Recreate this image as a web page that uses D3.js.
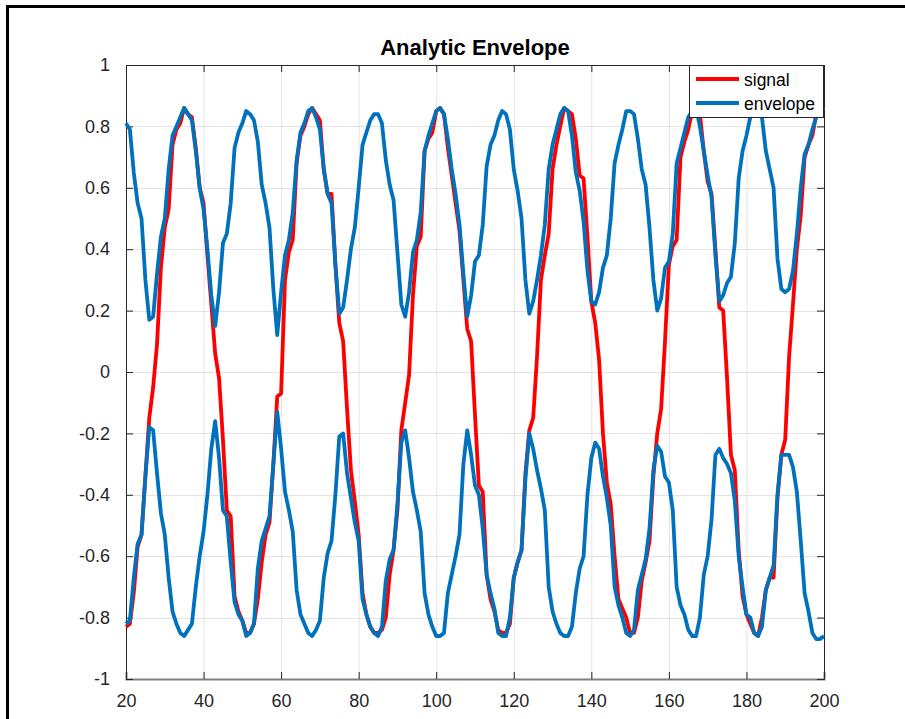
<!DOCTYPE html>
<html>
<head>
<meta charset="utf-8">
<script src="https://cdn.jsdelivr.net/npm/d3@7"></script>
<style>
body{margin:0;background:#fff;}
svg{display:block;font-family:"Liberation Sans",Arial,sans-serif;}
</style>
</head>
<body>
<div id="chart"></div>
<script>
// samples 20..200
var firstSample = 20
var lastSample = 200

var signal = [
 -0.83,-0.82,-0.72,-0.57,-0.53,-0.34,-0.15,-0.05,0.09,0.34,
 0.47,0.53,0.74,0.79,0.81,0.86,0.84,0.83,0.73,0.60,
 0.55,0.38,0.22,0.06,-0.02,-0.22,-0.45,-0.47,-0.73,-0.78,
 -0.81,-0.85,-0.85,-0.82,-0.74,-0.62,-0.53,-0.49,-0.30,-0.08,
 -0.07,0.30,0.39,0.43,0.68,0.77,0.80,0.84,0.86,0.84,
 0.82,0.66,0.58,0.58,0.35,0.16,0.10,-0.12,-0.32,-0.42,
 -0.53,-0.72,-0.79,-0.83,-0.85,-0.85,-0.84,-0.80,-0.66,-0.58,
 -0.45,-0.19,-0.10,-0.01,0.25,0.41,0.44,0.72,0.76,0.78,
 0.85,0.86,0.84,0.73,0.64,0.55,0.46,0.30,0.14,0.10,
 -0.14,-0.37,-0.39,-0.66,-0.74,-0.78,-0.84,-0.85,-0.85,-0.82,
 -0.67,-0.62,-0.58,-0.33,-0.19,-0.15,0.05,0.30,0.38,0.45,
 0.66,0.74,0.80,0.86,0.85,0.84,0.76,0.64,0.63,0.44,
 0.23,0.16,0.04,-0.20,-0.36,-0.43,-0.60,-0.74,-0.77,-0.80,
 -0.85,-0.85,-0.80,-0.68,-0.62,-0.55,-0.34,-0.20,-0.12,0.10,
 0.35,0.41,0.43,0.70,0.75,0.79,0.85,0.87,0.84,0.72,
 0.62,0.58,0.40,0.21,0.20,-0.02,-0.27,-0.32,-0.58,-0.73,
 -0.79,-0.82,-0.85,-0.86,-0.80,-0.71,-0.67,-0.67,-0.41,-0.27,
 -0.22,0.05,0.22,0.40,0.51,0.70,0.74,0.77,0.84,0.86,
 0.86
]

var upperEnv = [
 0.81,0.79,0.65,0.55,0.50,0.30,0.17,0.18,0.32,0.44,
 0.50,0.66,0.77,0.80,0.83,0.86,0.84,0.82,0.72,0.60,
 0.53,0.40,0.25,0.15,0.26,0.42,0.45,0.55,0.73,0.78,
 0.81,0.85,0.84,0.82,0.75,0.61,0.55,0.47,0.27,0.12,
 0.26,0.38,0.43,0.52,0.69,0.78,0.81,0.85,0.86,0.83,
 0.79,0.66,0.58,0.55,0.35,0.19,0.21,0.30,0.40,0.47,
 0.60,0.74,0.78,0.82,0.84,0.84,0.81,0.69,0.61,0.56,
 0.39,0.22,0.18,0.26,0.39,0.43,0.52,0.72,0.77,0.81,
 0.85,0.86,0.84,0.76,0.66,0.58,0.48,0.32,0.18,0.25,
 0.36,0.38,0.48,0.67,0.74,0.77,0.82,0.85,0.84,0.79,
 0.66,0.59,0.50,0.30,0.19,0.23,0.30,0.38,0.48,0.66,
 0.74,0.79,0.84,0.86,0.85,0.77,0.65,0.59,0.49,0.33,
 0.23,0.22,0.26,0.34,0.38,0.50,0.68,0.74,0.79,0.85,
 0.85,0.84,0.76,0.66,0.61,0.47,0.30,0.20,0.24,0.34,
 0.36,0.45,0.68,0.73,0.78,0.83,0.85,0.86,0.80,0.72,
 0.64,0.57,0.38,0.23,0.25,0.29,0.31,0.42,0.63,0.72,
 0.77,0.83,0.85,0.85,0.83,0.72,0.66,0.60,0.37,0.27,
 0.26,0.27,0.33,0.45,0.60,0.71,0.74,0.79,0.83,0.85,
 0.86
]

var lowerEnv = [
 -0.82,-0.81,-0.67,-0.56,-0.53,-0.34,-0.18,-0.19,-0.33,-0.46,
 -0.53,-0.67,-0.78,-0.82,-0.85,-0.86,-0.84,-0.82,-0.70,-0.60,
 -0.52,-0.40,-0.25,-0.16,-0.28,-0.45,-0.47,-0.62,-0.75,-0.79,
 -0.81,-0.86,-0.85,-0.82,-0.64,-0.55,-0.51,-0.47,-0.30,-0.13,
 -0.25,-0.39,-0.45,-0.52,-0.71,-0.79,-0.82,-0.85,-0.86,-0.84,
 -0.81,-0.67,-0.59,-0.55,-0.40,-0.21,-0.20,-0.33,-0.41,-0.49,
 -0.55,-0.74,-0.79,-0.83,-0.85,-0.86,-0.83,-0.68,-0.61,-0.58,
 -0.43,-0.23,-0.19,-0.28,-0.39,-0.45,-0.52,-0.72,-0.79,-0.83,
 -0.86,-0.86,-0.85,-0.72,-0.66,-0.60,-0.53,-0.30,-0.19,-0.27,
 -0.37,-0.40,-0.51,-0.66,-0.72,-0.77,-0.85,-0.86,-0.86,-0.80,
 -0.67,-0.62,-0.58,-0.35,-0.20,-0.25,-0.32,-0.38,-0.45,-0.70,
 -0.78,-0.82,-0.85,-0.86,-0.86,-0.83,-0.72,-0.64,-0.60,-0.40,
 -0.28,-0.23,-0.25,-0.34,-0.41,-0.50,-0.70,-0.76,-0.80,-0.85,
 -0.86,-0.84,-0.71,-0.66,-0.61,-0.51,-0.32,-0.24,-0.26,-0.34,
 -0.36,-0.45,-0.70,-0.76,-0.79,-0.84,-0.86,-0.86,-0.80,-0.66,
 -0.60,-0.48,-0.27,-0.25,-0.28,-0.30,-0.33,-0.42,-0.60,-0.70,
 -0.79,-0.80,-0.85,-0.86,-0.83,-0.71,-0.67,-0.63,-0.40,-0.27,
 -0.27,-0.27,-0.31,-0.39,-0.55,-0.72,-0.78,-0.85,-0.87,-0.87,
 -0.86
]

var xTicks = [20,40,60,80,100,120,140,160,180,200]
var yTicks = [-1,-0.8,-0.6,-0.4,-0.2,0,0.2,0.4,0.6,0.8,1]
var legendNames = ["signal","envelope"]
var titleText = "Analytic Envelope"

var w = 905
var h = 719
var plotLeft = 126, plotRight = 824, plotTop = 65, plotBottom = 679

var svg = d3.select("#chart").append("svg").attr("width",w).attr("height",h)

var samples = d3.range(firstSample, lastSample+1)

var xScale = d3.scaleLinear().domain([20,200]).range([plotLeft,plotRight])
var yScale = d3.scaleLinear().domain([-1,1]).range([plotBottom,plotTop])

// outer frame (only left & top visible)
svg.append("path")
	.attr("d","M7.5,"+h+"V6.5H"+w)
	.attr("fill","none")
	.attr("stroke","#000")
	.attr("stroke-width",3)

// grid
svg.append("g").selectAll("line")
	.data(xTicks.slice(1,-1))
	.enter().append("line")
	.attr("x1",function(d){ return xScale(d)+0.5 })
	.attr("x2",function(d){ return xScale(d)+0.5 })
	.attr("y1",plotTop).attr("y2",plotBottom)
	.attr("stroke","#e3e3e3").attr("stroke-width",1)

svg.append("g").selectAll("line")
	.data(yTicks.slice(1,-1))
	.enter().append("line")
	.attr("y1",function(d){ return Math.round(yScale(d))+0.5 })
	.attr("y2",function(d){ return Math.round(yScale(d))+0.5 })
	.attr("x1",plotLeft).attr("x2",plotRight)
	.attr("stroke","#e3e3e3").attr("stroke-width",1)

// axes with inward ticks
var axisColor = "#262626"
var bottomAxis = svg.append("g")
	.attr("transform","translate(0,"+plotBottom+")")
	.call(d3.axisBottom(xScale).tickValues(xTicks).tickSize(-7).tickPadding(15).tickFormat(function(d){ return String(d) }))
var topAxis = svg.append("g")
	.attr("transform","translate(0,"+plotTop+")")
	.call(d3.axisTop(xScale).tickValues(xTicks).tickSize(-7).tickFormat(""))
var leftAxis = svg.append("g")
	.attr("transform","translate("+plotLeft+",0)")
	.call(d3.axisLeft(yScale).tickValues(yTicks).tickSize(-7).tickPadding(16).tickFormat(function(d){ return String(d) }))
var rightAxis = svg.append("g")
	.attr("transform","translate("+plotRight+",0)")
	.call(d3.axisRight(yScale).tickValues(yTicks).tickSize(-7).tickFormat(""))

svg.selectAll(".domain").attr("stroke",axisColor)
svg.selectAll(".tick line").attr("stroke",axisColor)
svg.selectAll(".tick text")
	.attr("fill",axisColor)
	.style("font-size","18px")
	.style("font-family","'Liberation Sans',Arial,sans-serif")
bottomAxis.select(".domain").attr("stroke","#7f7f7f").attr("stroke-width",2)

// title
svg.append("text")
	.attr("x",(plotLeft+plotRight)/2)
	.attr("y",55)
	.attr("text-anchor","middle")
	.style("font-size","22px")
	.style("font-weight","bold")
	.attr("fill","#000")
	.text(titleText)

// curves
var line = d3.line()
	.x(function(d,i){ return xScale(samples[i]) })
	.y(function(d){ return yScale(d) })

var series = [
	{values:signal, color:"#ff0000"},
	{values:upperEnv, color:"#0072bd"},
	{values:lowerEnv, color:"#0072bd"}
]

svg.selectAll(".curve")
	.data(series)
	.enter()
	.append("path")
	.attr("class","curve")
	.attr("d",function(d){ return line(d.values) })
	.attr("fill","none")
	.attr("stroke",function(d){ return d.color })
	.attr("stroke-width",3.8)
	.attr("stroke-linejoin","round")

// legend
var legend = svg.append("g")
legend.append("rect")
	.attr("x",689.5).attr("y",plotTop+0.5)
	.attr("width",plotRight-690).attr("height",52)
	.attr("fill","#fff")
	.attr("stroke",axisColor).attr("stroke-width",1)

var legendColors = ["#ff0000","#0072bd"]
legend.selectAll(".lg-line")
	.data(legendNames)
	.enter().append("line")
	.attr("x1",696).attr("x2",739)
	.attr("y1",function(d,i){ return 79+i*24 })
	.attr("y2",function(d,i){ return 79+i*24 })
	.attr("stroke",function(d,i){ return legendColors[i] })
	.attr("stroke-width",3.8)

legend.selectAll(".lg-text")
	.data(legendNames)
	.enter().append("text")
	.attr("x",744)
	.attr("y",function(d,i){ return 86+i*24 })
	.style("font-size","17.5px")
	.attr("fill","#000")
	.text(function(d){ return d })
</script>
</body>
</html>
